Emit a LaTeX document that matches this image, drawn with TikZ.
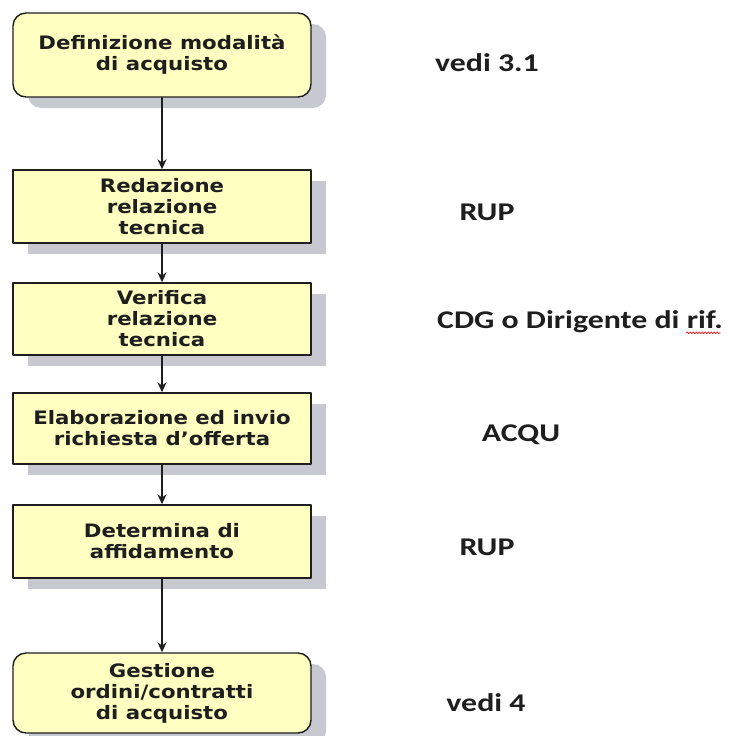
\documentclass[tikz,border=0pt]{standalone}
\usepackage{fontspec}
\setmainfont{DejaVu Sans}
\newfontfamily\boxfont{DejaVu Sans}[FakeStretch=1.15]
\newfontfamily\notefont{Carlito}[FakeStretch=1.25]
\usetikzlibrary{shapes, calc, arrows.meta, shadows, decorations.pathmorphing}
\definecolor{boxyellow}{RGB}{255,255,194}
\definecolor{shadowgray}{RGB}{200,200,208}
\definecolor{inkgray}{RGB}{30,30,30}

\begin{document}
\begin{tikzpicture}[line cap=round,line join=round,x=1pt,y=-1pt,
  box/.style={draw=inkgray, line width=1.4pt, fill=boxyellow, minimum width=298pt, align=center, inner sep=0pt,
    font=\boxfont\bfseries\fontsize{18.5}{21}\selectfont, text=inkgray,
    drop shadow={shadow xshift=15pt, shadow yshift=-11pt, fill=shadowgray, opacity=1}},
  roundbox/.style={box, rounded corners=13pt},
  note/.style={font=\notefont\bfseries\fontsize{25.5}{28}\selectfont, text=inkgray},
  flow/.style={-{Stealth[length=10pt,width=9pt]}, line width=1.3pt, draw=inkgray}]
\useasboundingbox (0,0) rectangle (731,736);
% boxes of the procedure
\node[roundbox, minimum height=84pt] (def) at (162,55) {Definizione modalità\\di acquisto};
\node[box, minimum height=73pt] (red) at (162,206.5) {Redazione\\relazione\\tecnica};
\node[box, minimum height=72pt] (ver) at (162,319) {Verifica\\relazione\\tecnica};
\node[box, minimum height=71pt] (ela) at (162,428.5) {Elaborazione ed invio\\richiesta d’offerta};
\node[box, minimum height=73pt] (det) at (162,541.5) {Determina di\\affidamento};
\node[roundbox, minimum height=80pt] (ges) at (162,693) {Gestione\\ordini/contratti\\di acquisto};
\draw[flow] (def) -- (red);
\draw[flow] (red) -- (ver);
\draw[flow] (ver) -- (ela);
\draw[flow] (ela) -- (det);
\draw[flow] (det) -- (ges);
% who does it
\node[note] (n1) at (487,63) {vedi 3.1};
\node[note] (n2) at (487,212) {RUP};
\node[note] (n3) at (580,322) {CDG o Dirigente di rif.};
\node[note] (n4) at (521,435) {ACQU};
\node[note] (n5) at (487,547) {RUP};
\node[note] (n6) at (486,703) {vedi 4};
\draw[red, line width=0.6pt, decorate, decoration={snake, amplitude=0.9pt, segment length=3pt}]
  ($(n3.base east)+(-40,4)$) -- ($(n3.base east)+(-6,4)$);
\end{tikzpicture}
\end{document}
